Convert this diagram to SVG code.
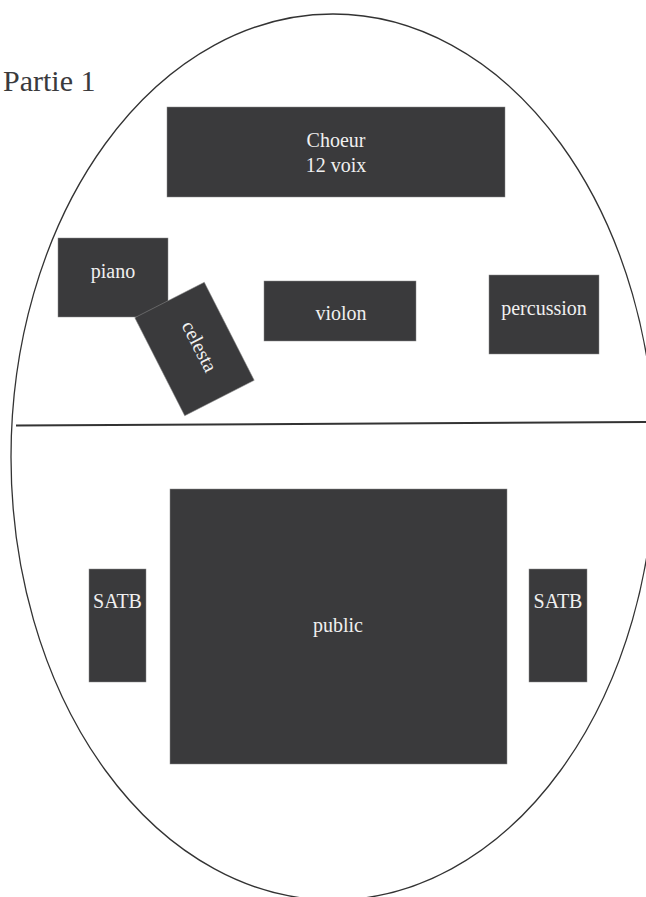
<svg xmlns="http://www.w3.org/2000/svg" width="646" height="897" viewBox="0 0 646 897">
<style>
.box{fill:#3a3a3c;stroke:#8a8a8a;stroke-width:0.5}
.lbl{font-family:"Liberation Serif","Times New Roman","DejaVu Serif",serif;font-size:20px;fill:#f0f0f0;text-anchor:middle}
.title{font-family:"Liberation Serif","Times New Roman","DejaVu Serif",serif;font-size:30px;fill:#3a3a3c}
</style>
<rect width="646" height="897" fill="#fff"/>
<g id="outline">
<ellipse cx="333" cy="457" rx="322" ry="443" fill="none" stroke="#333" stroke-width="1.3"/>
<line x1="16" y1="425.5" x2="646" y2="422" stroke="#333" stroke-width="2"/>
</g>
<text class="title" x="3" y="91">Partie 1</text>
<g id="choeur"><rect class="box" x="167" y="107" width="338" height="90"/><text class="lbl" x="336" y="147">Choeur</text><text class="lbl" x="336" y="172">12 voix</text></g>
<g id="piano"><rect class="box" x="58" y="238" width="110" height="79"/><text class="lbl" x="113" y="278">piano</text></g>
<g id="celesta" transform="translate(194.5 349) rotate(63)"><rect class="box" x="-55" y="-39" width="110" height="78"/><text class="lbl" x="0" y="1">celesta</text></g>
<g id="violon"><rect class="box" x="264" y="281" width="152" height="60"/><text class="lbl" x="341" y="320">violon</text></g>
<g id="percussion"><rect class="box" x="489" y="275" width="110" height="79"/><text class="lbl" x="544" y="315">percussion</text></g>
<g id="satb-left"><rect class="box" x="89" y="569" width="57" height="113"/><text class="lbl" x="117.5" y="608">SATB</text></g>
<g id="public"><rect class="box" x="170" y="489" width="337" height="275"/><text class="lbl" x="338" y="632">public</text></g>
<g id="satb-right"><rect class="box" x="529" y="569" width="58" height="113"/><text class="lbl" x="558" y="608">SATB</text></g>
<g id="connectors"></g>
</svg>
